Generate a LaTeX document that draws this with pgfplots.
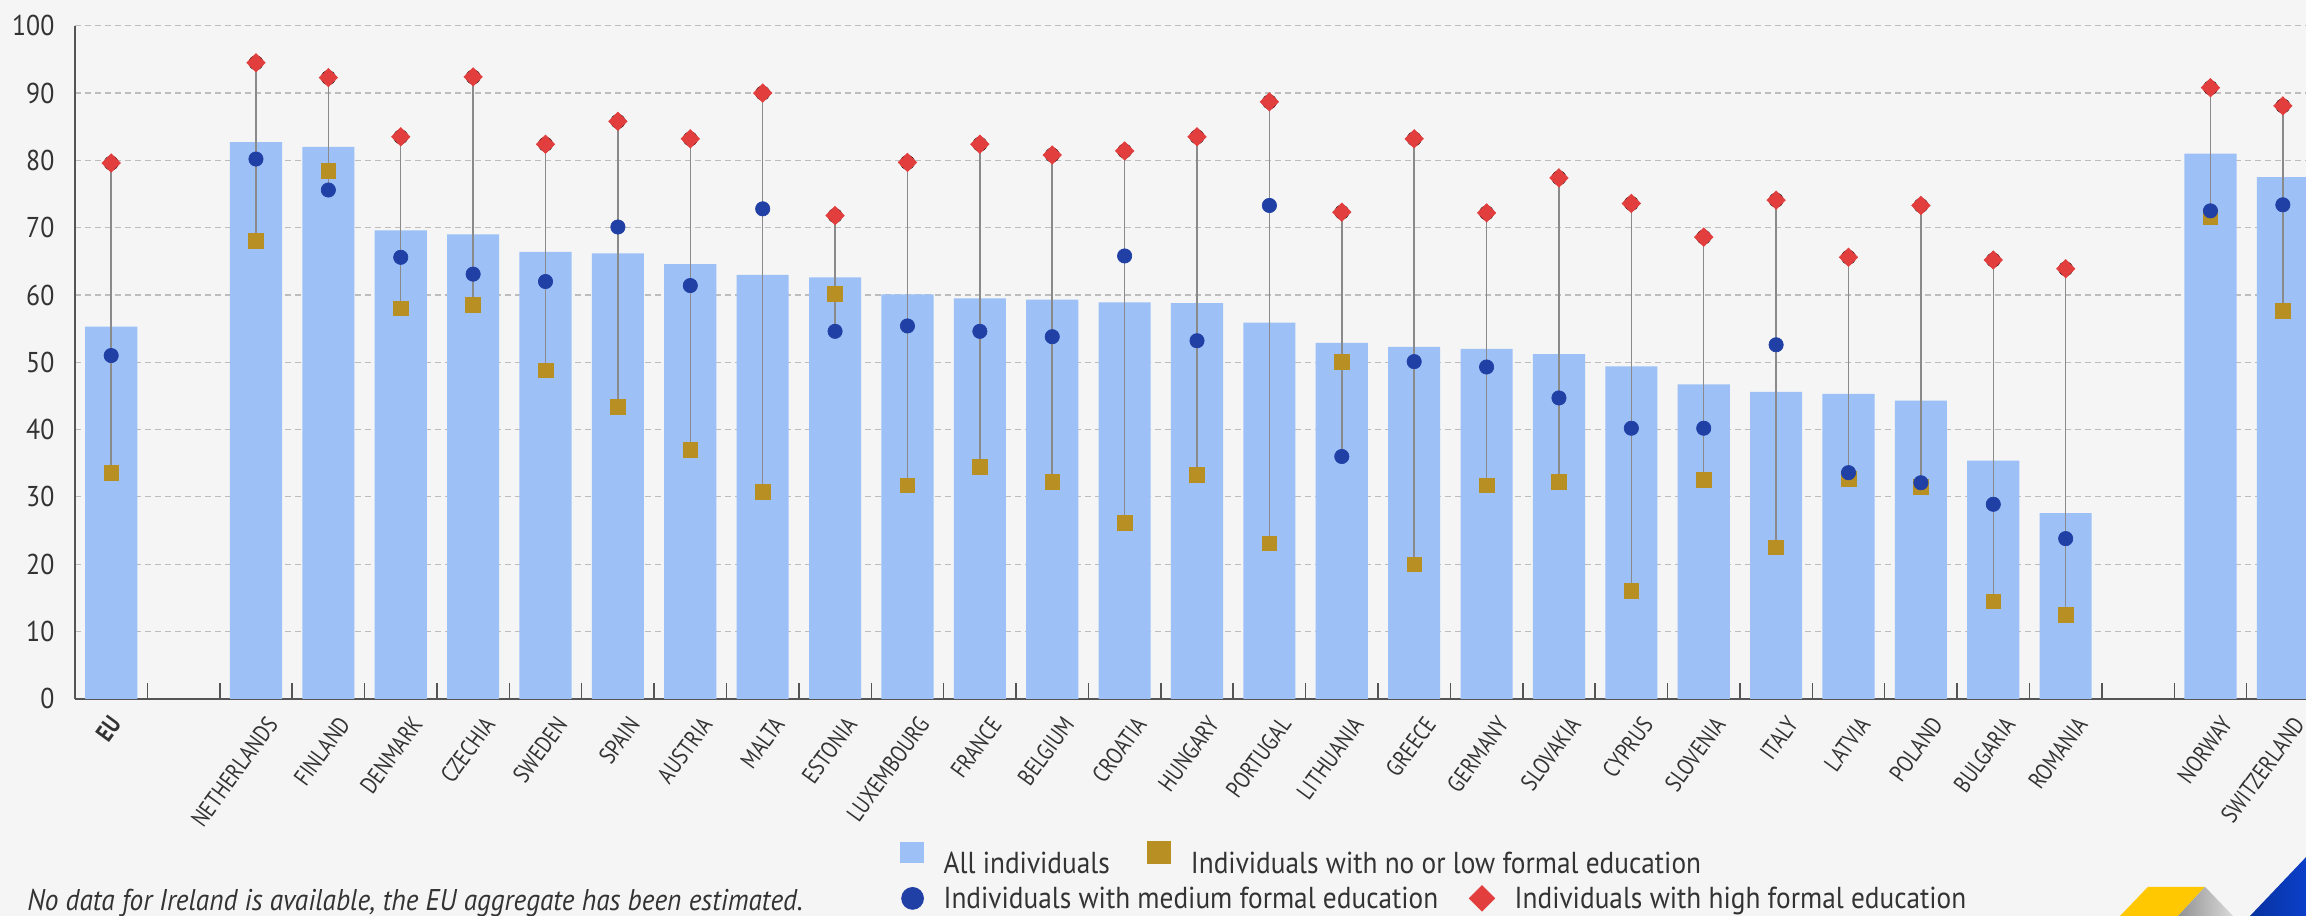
\documentclass[border=0pt]{standalone}
\usepackage{fontspec}
\setmainfont{PT Sans}[FakeStretch=0.9]
\newfontfamily\labfont{PT Sans}[FakeStretch=0.82]
\newfontfamily\notefont{PT Sans}[FakeStretch=0.91]
\usepackage{pgfplots}
\usepackage{pgfplotstable}
\pgfplotsset{compat=1.18}
\definecolor{bgcol}{HTML}{F5F5F5}
\definecolor{barcol}{HTML}{9DC1F7}
\definecolor{lowcol}{HTML}{B78F22}
\definecolor{medcol}{HTML}{2140A6}
\definecolor{highcol}{HTML}{E23E3E}
\definecolor{gridcol}{HTML}{BDBDBD}
\definecolor{axiscol}{HTML}{555555}
\definecolor{linecol}{HTML}{8A8A8A}
\definecolor{txtcol}{HTML}{333333}
\definecolor{logoyel}{HTML}{FFC800}
\definecolor{logoblue}{HTML}{0A3FC8}
\pgfplotsset{
  markleg/.style={legend image code/.code={\draw[##1] plot coordinates {(0pt,0pt)};}},
}

\pgfplotstableread{
x all low med high lo
0 55.3 33.6 51.0 79.6 33.6
2 82.7 68.0 80.2 94.5 68.0
3 82.0 78.4 75.6 92.3 75.6
4 69.6 58.0 65.6 83.5 58.0
5 69.0 58.5 63.1 92.4 58.5
6 66.4 48.8 62.0 82.4 48.8
7 66.2 43.4 70.1 85.8 43.4
8 64.6 37.0 61.4 83.2 37.0
9 63.0 30.8 72.8 90.0 30.8
10 62.6 60.2 54.6 71.8 54.6
11 60.1 31.7 55.4 79.7 31.7
12 59.5 34.5 54.6 82.4 34.5
13 59.3 32.2 53.8 80.8 32.2
14 58.9 26.1 65.8 81.4 26.1
15 58.8 33.3 53.2 83.5 33.3
16 55.9 23.1 73.3 88.7 23.1
17 52.9 50.1 36.0 72.3 36.0
18 52.3 20.0 50.1 83.2 20.0
19 52.0 31.7 49.3 72.2 31.7
20 51.2 32.2 44.7 77.4 32.2
21 49.4 16.0 40.2 73.6 16.0
22 46.7 32.5 40.2 68.6 32.5
23 45.6 22.5 52.6 74.1 22.5
24 45.3 32.7 33.6 65.6 32.7
25 44.3 31.5 32.1 73.3 31.5
26 35.4 14.5 28.9 65.2 14.5
27 27.6 12.5 23.8 63.9 12.5
29 81.0 71.6 72.5 90.8 71.6
30 77.5 57.6 73.4 88.1 57.6
}\data

\begin{document}
\begin{tikzpicture}
\fill[bgcol] (-22.5pt,-65.16pt) rectangle (669.3pt,209.64pt);
\begin{axis}[
  scale only axis, width=669.3pt, height=201.9pt,
  xmin=-0.5, xmax=30.32, ymin=0, ymax=100,
  axis x line*=bottom, axis y line*=left,
  axis line style={draw=axiscol, line width=0.5pt},
  ytick={0,10,...,100},
  ymajorgrids,
  grid style={draw=gridcol, dash pattern=on 1.8pt off 1.2pt, line width=0.35pt},
  major tick length=0pt,
  xtick={2,3,4,5,6,7,8,9,10,11,12,13,14,15,16,17,18,19,20,21,22,23,24,25,26,27,29,30},
  xticklabels={NETHERLANDS,FINLAND,DENMARK,CZECHIA,SWEDEN,SPAIN,AUSTRIA,MALTA,ESTONIA,LUXEMBOURG,FRANCE,BELGIUM,CROATIA,HUNGARY,PORTUGAL,LITHUANIA,GREECE,GERMANY,SLOVAKIA,CYPRUS,SLOVENIA,ITALY,LATVIA,POLAND,BULGARIA,ROMANIA,NORWAY,SWITZERLAND},
  extra x ticks={0},
  extra x tick labels={\textbf{EU}},
  extra x tick style={grid=none, major tick length=0pt,
    every x tick label/.style={font=\labfont\fontsize{7.4}{8}\selectfont, text=txtcol, inner sep=0pt, anchor=north east, yshift=-4.3pt, xshift=-1.0pt, rotate=54}},
  minor xtick={0.5,1.5,...,29.5},
  minor tick length=4.8pt, tick align=inside,
  tick style={draw=axiscol, line width=0.45pt},
  /pgf/number format/assume math mode=true,
  yticklabel style={font=\fontsize{8.6}{10}\selectfont, text=txtcol, inner sep=0pt, xshift=-6pt},
  xticklabel style={font=\labfont\fontsize{7.2}{8}\selectfont, text=txtcol, inner sep=0pt, anchor=north east, yshift=-4.5pt, xshift=2.7pt, rotate=54},
  legend columns=-1,
  legend style={draw=none, fill=none, inner sep=0pt, anchor=south west, at={(0.3693,-0.2604)},
    font=\fontsize{9.1}{10}\selectfont, text=txtcol,
    nodes={inner sep=0pt, text height=6.3pt, text depth=0pt},
    /tikz/every odd column/.append style={column sep=6pt},
    /tikz/every even column/.append style={column sep=11pt}},
]
\addplot[ybar, bar width=0.72, fill=barcol, draw=none,
  legend image code/.code={\fill[barcol] (0pt,0pt) rectangle (7.2pt,6.3pt);}]
  table[x=x, y=all] {\data};
\addlegendentry{All individuals}
\addplot[forget plot, only marks, mark=none,
  error bars/.cd, y dir=minus, y explicit, error mark=none,
  error bar style={draw=linecol, line width=0.45pt}]
  table[x=x, y=high, y error expr=\thisrow{high}-\thisrow{lo}] {\data};
\addplot[color=lowcol, only marks, mark=square*, mark size=2.2pt, mark options={fill=lowcol, draw=lowcol, line width=0.2pt},
  legend image code/.code={\fill[lowcol] (0pt,0pt) rectangle (6.9pt,6.3pt);}]
  table[x=x, y=low] {\data};
\addlegendentry{Individuals with no or low formal education}
\addplot[color=medcol, forget plot, only marks, mark=*, mark size=2.15pt, mark options={fill=medcol, draw=medcol, line width=0.2pt}]
  table[x=x, y=med] {\data};
\addplot[color=highcol, forget plot, only marks, mark=square*, mark size=1.95pt, mark options={fill=highcol, draw=highcol, line width=0.2pt, rotate=45}]
  table[x=x, y=high] {\data};
\end{axis}
\begin{axis}[
  scale only axis, width=669.3pt, height=201.9pt, hide axis,
  xmin=0, xmax=1, ymin=0, ymax=1,
  legend columns=-1,
  legend style={draw=none, fill=none, inner sep=0pt, anchor=south west, at={(0.3702,-0.3165)},
    font=\fontsize{9.1}{10}\selectfont, text=txtcol,
    nodes={inner sep=0pt, text height=6.3pt, text depth=0pt},
    /tikz/every odd column/.append style={column sep=6pt},
    /tikz/every even column/.append style={column sep=9.3pt}},
]
\addlegendimage{color=medcol, only marks, mark=*, mark size=3.3pt, mark options={fill=medcol, draw=medcol, line width=0.2pt}, markleg}
\addlegendentry{Individuals with medium formal education}
\addlegendimage{color=highcol, only marks, mark=square*, mark size=2.7pt, mark options={fill=highcol, draw=highcol, line width=0.2pt, rotate=45}, markleg}
\addlegendentry{Individuals with high formal education}
\end{axis}
\node[anchor=base west, inner sep=0pt, text=txtcol, font=\notefont\itshape\fontsize{9}{10}\selectfont] at (-14.5pt,-63.5pt) {No data for Ireland is available, the EU aggregate has been estimated.};
\fill[logoyel] (621.9pt,-56.4pt) -- (639pt,-56.4pt) -- (630.9pt,-65.16pt) -- (613.5pt,-65.16pt) -- cycle;
\shade[left color=gray!85, right color=gray!30] (639pt,-56.4pt) -- (647.4pt,-65.16pt) -- (630.9pt,-65.16pt) -- cycle;
\shade[left color=logoblue!80!black, right color=logoblue] (669.3pt,-47.5pt) -- (669.3pt,-65.16pt) -- (652.5pt,-65.16pt) -- cycle;
\pgfresetboundingbox
\path (-22.5pt,-65.16pt) rectangle (669.3pt,209.64pt);
\end{tikzpicture}
\end{document}
